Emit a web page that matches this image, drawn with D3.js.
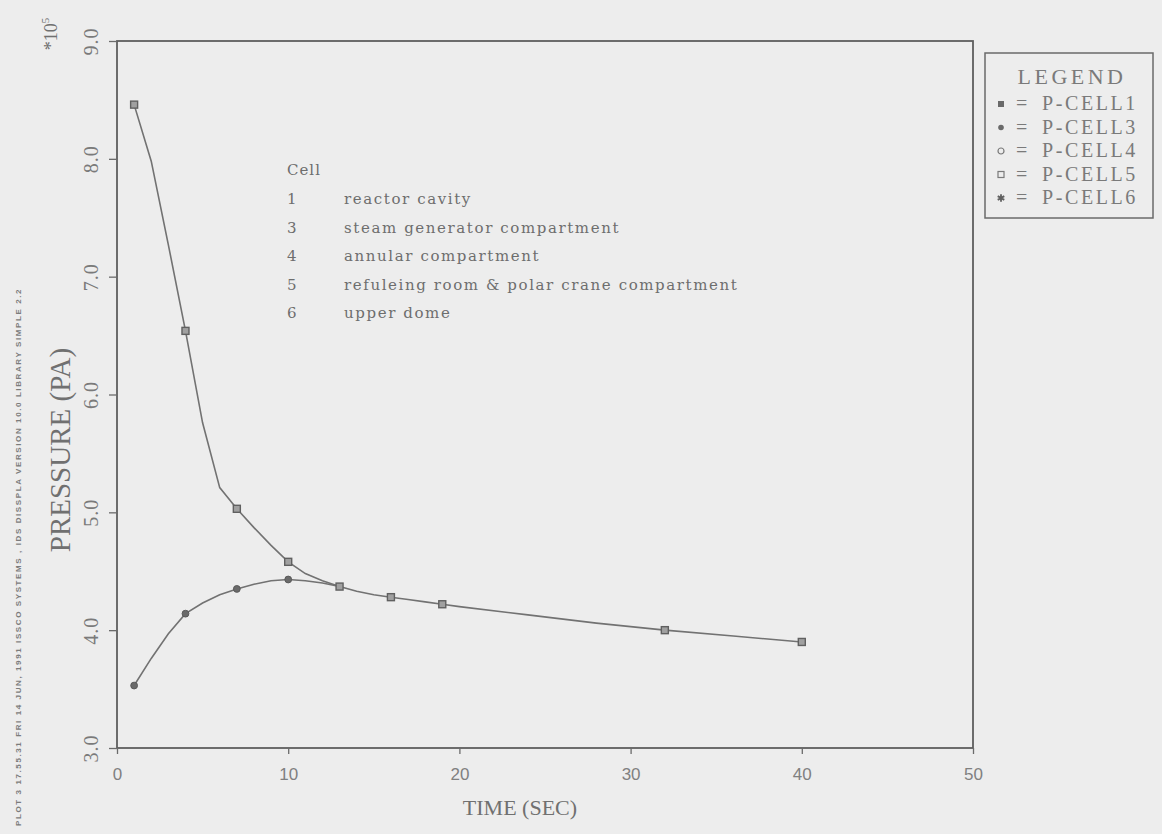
<!DOCTYPE html>
<html>
<head>
<meta charset="utf-8">
<script src="https://cdn.jsdelivr.net/npm/d3@7/dist/d3.min.js"></script>
<style>
  html, body { margin: 0; padding: 0; background: #ededed; }
  svg { display: block; }
</style>
</head>
<body>
<svg id="chart" width="1162" height="834"></svg>
<script>
// Time axis (seconds) and pressures (×10^5 Pa)
const timeCell1 = [1, 2, 3, 4, 5, 6, 7, 8, 9, 10, 11, 12, 13, 14, 15, 16, 17, 18, 19, 20, 24, 28, 32, 36, 40];
const pCell1 = [8.46, 7.98, 7.27, 6.54, 5.76, 5.21, 5.03, 4.87, 4.72, 4.58, 4.48, 4.42, 4.37, 4.33, 4.30, 4.28, 4.26, 4.24, 4.22, 4.20, 4.13, 4.06, 4.00, 3.95, 3.90];
const markTimesCell1 = [1, 4, 7, 10, 13, 16, 19, 32, 40];

const timeCell3 = [1, 2, 3, 4, 5, 6, 7, 8, 9, 10, 11, 12, 13];
const pCell3 = [3.53, 3.76, 3.97, 4.14, 4.23, 4.30, 4.35, 4.39, 4.42, 4.43, 4.42, 4.40, 4.37];
const markTimesCell3 = [1, 4, 7, 10];

const xTicks = [0, 10, 20, 30, 40, 50];
const yTicks = [3, 4, 5, 6, 7, 8, 9];

const cellNumbers = ["1", "3", "4", "5", "6"];
const cellNames = ["reactor cavity", "steam generator compartment", "annular compartment",
                   "refuleing room & polar crane compartment", "upper dome"];
const legendLabels = ["P-CELL1", "P-CELL3", "P-CELL4", "P-CELL5", "P-CELL6"];

const ink = "#6b6b6b";
const serif = "'Liberation Serif', 'DejaVu Serif', serif";
const svg = d3.select("#chart");

const margin = { left: 117, right: 973, top: 41, bottom: 748 };
const x = d3.scaleLinear().domain([0, 50]).range([margin.left, margin.right]);
const y = d3.scaleLinear().domain([3, 9]).range([margin.bottom, margin.top]);

// frame
svg.append("rect")
  .attr("x", margin.left).attr("y", margin.top)
  .attr("width", margin.right - margin.left).attr("height", margin.bottom - margin.top)
  .attr("fill", "none").attr("stroke", "#5e5e5e").attr("stroke-width", 1.8);

// x axis
const xAxis = svg.append("g")
  .attr("transform", `translate(0,${margin.bottom})`)
  .call(d3.axisBottom(x).tickValues(xTicks).tickSize(6).tickPadding(14).tickFormat(d3.format("d")));
xAxis.select(".domain").remove();
xAxis.selectAll("line").attr("stroke", ink).attr("stroke-width", 1.3);
xAxis.selectAll("text")
  .attr("fill", "#808080")
  .style("font-family", "'Liberation Sans', Arial, sans-serif")
  .style("font-size", "17px");

// y axis, labels turned to read upward
const yAxis = svg.append("g")
  .attr("transform", `translate(${margin.left},0)`)
  .call(d3.axisLeft(y).tickValues(yTicks).tickSize(8).tickFormat(d3.format(".1f")));
yAxis.select(".domain").remove();
yAxis.selectAll("line").attr("stroke", ink).attr("stroke-width", 1.3);
yAxis.selectAll("text")
  .attr("x", null)
  .attr("text-anchor", "middle")
  .attr("transform", "translate(-26,0) rotate(-90)")
  .attr("dy", "0.35em")
  .attr("fill", "#7a7a7a")
  .style("font-family", serif)
  .style("font-size", "20px")
  .style("letter-spacing", "1px");

// axis titles
svg.append("text")
  .attr("x", (margin.left + margin.right) / 2 - 25).attr("y", 815)
  .attr("text-anchor", "middle")
  .attr("fill", "#707070")
  .style("font-family", serif)
  .style("font-size", "22px")
  .text("TIME (SEC)");

svg.append("text")
  .attr("transform", "translate(70,450) rotate(-90)")
  .attr("text-anchor", "middle")
  .attr("fill", "#707070")
  .style("font-family", serif)
  .style("font-size", "29px")
  .text("PRESSURE (PA)");

const mult = svg.append("text")
  .attr("transform", "translate(57,34) rotate(-90)")
  .attr("text-anchor", "middle")
  .attr("fill", "#707070")
  .style("font-family", serif)
  .style("font-size", "18px");
mult.append("tspan").text("*10");
mult.append("tspan").attr("dy", "-8").style("font-size", "11px").text("5");

// plot stamp along the left edge
svg.append("text")
  .attr("transform", "translate(21,826) rotate(-90)")
  .attr("fill", "#7c7c7c")
  .style("font-family", "'Liberation Sans', sans-serif")
  .style("font-size", "8px")
  .style("font-weight", "bold")
  .style("letter-spacing", "1.6px")
  .text("PLOT 3      17.55.31   FRI 14 JUN, 1991      ISSCO SYSTEMS , IDS DISSPLA VERSION 10.0 LIBRARY   SIMPLE 2.2");

// curves
const line = d3.line().x(d => x(d[0])).y(d => y(d[1]));
const series1 = timeCell1.map((t, i) => [t, pCell1[i]]);
const series3 = timeCell3.map((t, i) => [t, pCell3[i]]);

svg.append("path").datum(series3).attr("d", line)
  .attr("fill", "none").attr("stroke", "#727272").attr("stroke-width", 1.6);
svg.append("path").datum(series1).attr("d", line)
  .attr("fill", "none").attr("stroke", "#727272").attr("stroke-width", 1.6);

// markers
const valueAt = (ts, vs, t) => vs[ts.indexOf(t)];
svg.selectAll(".m1").data(markTimesCell1).enter().append("rect")
  .attr("x", d => x(d) - 3.5).attr("y", d => y(valueAt(timeCell1, pCell1, d)) - 3.5)
  .attr("width", 7).attr("height", 7)
  .attr("fill", "#a0a0a0").attr("stroke", "#606060").attr("stroke-width", 1.4);
svg.selectAll(".m3").data(markTimesCell3).enter().append("circle")
  .attr("cx", d => x(d)).attr("cy", d => y(valueAt(timeCell3, pCell3, d)))
  .attr("r", 3.4)
  .attr("fill", "#6a6a6a").attr("stroke", "#5a5a5a").attr("stroke-width", 1);

// cell annotation block
const note = svg.append("g")
  .attr("fill", "#6e6e6e")
  .style("font-family", "'DejaVu Serif', serif")
  .style("font-size", "15px");
note.append("text").attr("x", 287).attr("y", 175).style("letter-spacing", "1px").text("Cell");
cellNumbers.forEach((n, i) => {
  note.append("text").attr("x", 287).attr("y", 204 + i * 28.5).text(n);
  note.append("text").attr("x", 344).attr("y", 204 + i * 28.5)
    .style("font-size", "15px").style("letter-spacing", "1.6px").text(cellNames[i]);
});

// legend box
const lg = svg.append("g");
lg.append("rect").attr("x", 985).attr("y", 53).attr("width", 168).attr("height", 165)
  .attr("fill", "none").attr("stroke", "#6a6a6a").attr("stroke-width", 1.5);
lg.append("text").attr("x", 1072).attr("y", 84).attr("text-anchor", "middle")
  .attr("fill", "#7a7a7a")
  .style("font-family", serif).style("font-size", "22px").style("letter-spacing", "3.5px")
  .text("LEGEND");
const symbols = [
  s => s.append("rect").attr("x", -3).attr("y", -3).attr("width", 6).attr("height", 6).attr("fill", "#6a6a6a"),
  s => s.append("circle").attr("r", 2.8).attr("fill", "#6a6a6a"),
  s => s.append("circle").attr("r", 3).attr("fill", "none").attr("stroke", "#7a7a7a").attr("stroke-width", 1.2),
  s => s.append("rect").attr("x", -3).attr("y", -3).attr("width", 6).attr("height", 6).attr("fill", "none").attr("stroke", "#7a7a7a").attr("stroke-width", 1.2),
  s => s.append("path").attr("d", d3.symbol(d3.symbolAsterisk, 40)()).attr("stroke", "#606060").attr("stroke-width", 1.8)
];
legendLabels.forEach((lab, i) => {
  const yy = 104 + i * 23.5;
  const g = lg.append("g").attr("transform", `translate(1001,${yy})`);
  symbols[i](g);
  const txt = lg.append("g")
    .attr("fill", "#7a7a7a")
    .style("font-family", serif).style("font-size", "20px");
  txt.append("text").attr("x", 1016).attr("y", yy + 6).text("=");
  txt.append("text").attr("x", 1042).attr("y", yy + 6).style("letter-spacing", "2.6px").text(lab);
});
</script>
</body>
</html>
